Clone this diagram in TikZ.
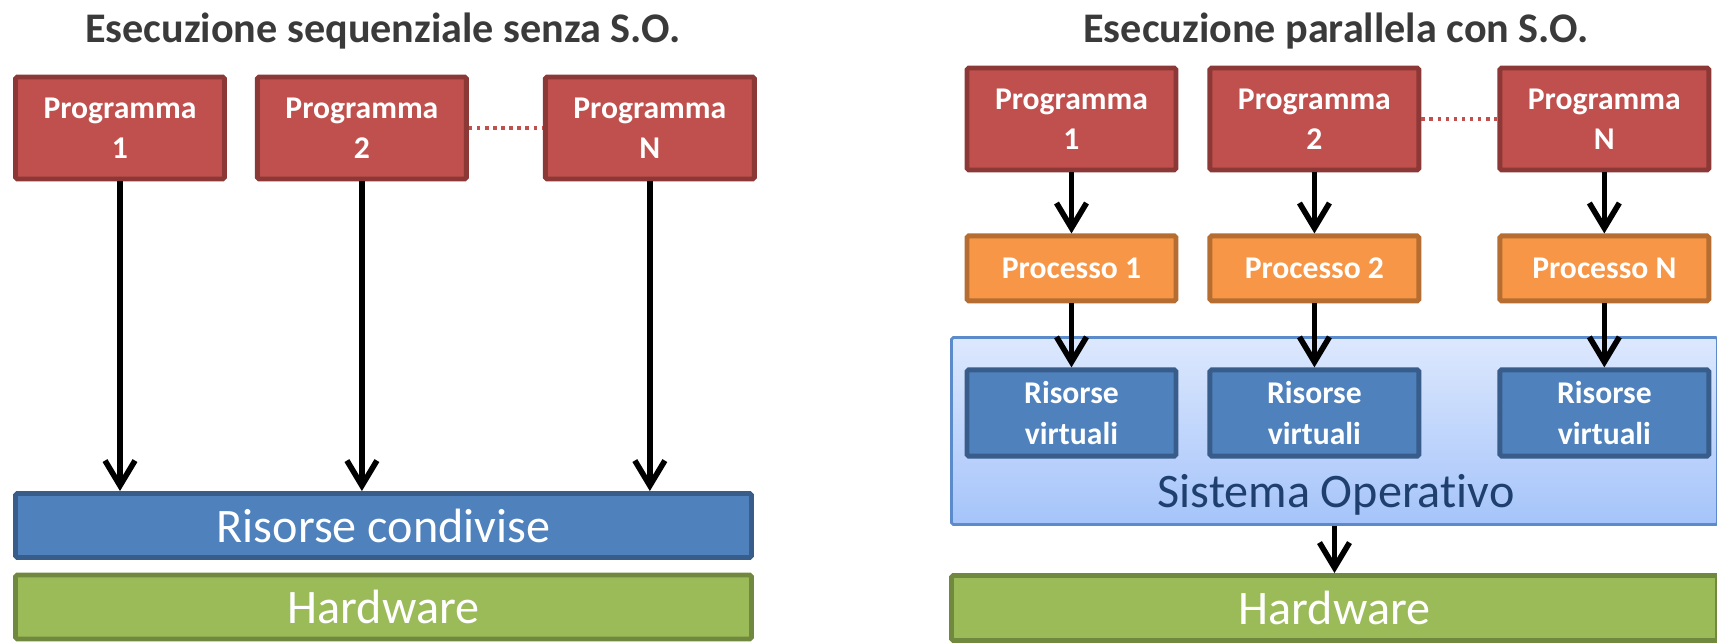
\documentclass[tikz,border=0pt]{standalone}
\usepackage{fontspec}
\setmainfont[Ligatures=NoCommon]{Carlito}
\usepackage{xcolor}
\usetikzlibrary{arrows.meta, positioning}

\definecolor{progfill}{HTML}{C0504D}
\definecolor{progline}{HTML}{8C3836}
\definecolor{procfill}{HTML}{F79646}
\definecolor{procline}{HTML}{B66D31}
\definecolor{resfill}{HTML}{4F81BD}
\definecolor{resline}{HTML}{385D8A}
\definecolor{hwfill}{HTML}{9BBB59}
\definecolor{hwline}{HTML}{71893F}
\definecolor{sotop}{HTML}{DDE8FD}
\definecolor{sobottom}{HTML}{A5C4FA}
\definecolor{soline}{HTML}{5B8BCB}
\definecolor{sotextcol}{HTML}{1F3F6E}
\definecolor{titlegray}{HTML}{3A3A3A}

\begin{document}
\begin{tikzpicture}[node distance=0.28cm, every node/.style={font=\bfseries\fontsize{9}{11.5}\selectfont}]
    \tikzstyle{prog} = [rectangle, rounded corners=0.5pt, draw=progline, fill=progfill, line width=1.4pt, minimum width=2.09cm, minimum height=1.02cm, align=center, text=white]
    \tikzstyle{proc} = [rectangle, rounded corners=0.5pt, draw=procline, fill=procfill, line width=1.4pt, minimum width=2.09cm, minimum height=0.65cm, align=center, text=white]
    \tikzstyle{virt} = [rectangle, rounded corners=0.5pt, draw=resline, fill=resfill, line width=1.4pt, minimum width=2.09cm, minimum height=0.75cm, align=center, text=white]
    \tikzstyle{band} = [rectangle, rounded corners=0.5pt, line width=1.4pt, minimum height=0.64cm, text=white, font=\fontsize{13.7}{16}\selectfont]
    \tikzstyle{title} = [text=titlegray, font=\bfseries\fontsize{12}{14}\selectfont]
    \tikzstyle{arr} = [line width=1.6pt, -{Straight Barb[length=2.5mm, width=3mm]}]
    \tikzstyle{dots} = [line width=1pt, progfill, dash pattern=on 1pt off 1.3pt]

    \useasboundingbox (0,0) rectangle (17.17,6.43);

    % senza sistema operativo
    \node[title] (titleseq) at (3.83,6.12) {Esecuzione sequenziale senza S.O.};
    \node[prog] (seqp1) at (1.20,5.15) {Programma\\1};
    \node[prog, right=0.28cm of seqp1] (seqp2) {Programma\\2};
    \node[prog, right=0.74cm of seqp2] (seqpn) {Programma\\N};
    \node[band, draw=resline, fill=resfill, minimum width=7.36cm] (shared) at (3.835,1.175) {Risorse condivise};
    \node[band, draw=hwline, fill=hwfill, minimum width=7.36cm] (seqhw) at (3.835,0.36) {Hardware};

    \draw[dots] (seqp2) -- (seqpn);
    \draw[arr] (seqp1.south) -- (seqp1.south |- shared.north);
    \draw[arr] (seqp2.south) -- (seqp2.south |- shared.north);
    \draw[arr] (seqpn.south) -- (seqpn.south |- shared.north);

    % con sistema operativo
    \node[title] (titlepar) at (13.36,6.12) {Esecuzione parallela con S.O.};
    \node[band, draw=soline, line width=0.8pt, top color=sotop, bottom color=sobottom, minimum width=7.66cm, minimum height=1.87cm] (os) at (13.345,2.12) {};
    \node[text=sotextcol, font=\fontsize{13.7}{16}\selectfont] (ostext) at (13.36,1.48) {Sistema Operativo};
    \node[band, draw=hwline, fill=hwfill, minimum width=7.66cm, minimum height=0.65cm] (parhw) at (13.345,0.35) {Hardware};

    \node[prog] (parp1) at (10.715,5.24) {Programma\\1};
    \node[prog, right=0.29cm of parp1] (parp2) {Programma\\2};
    \node[prog, right=0.76cm of parp2] (parpn) {Programma\\N};
    \node[proc, below=0.61cm of parp1] (proc1) {Processo 1};
    \node[proc, below=0.61cm of parp2] (proc2) {Processo 2};
    \node[proc, below=0.61cm of parpn] (procn) {Processo N};
    \node[virt, below=0.64cm of proc1] (virt1) {Risorse\\virtuali};
    \node[virt, below=0.64cm of proc2] (virt2) {Risorse\\virtuali};
    \node[virt, below=0.64cm of procn] (virtn) {Risorse\\virtuali};

    \draw[dots] (parp2) -- (parpn);
    \draw[arr] (parp1) -- (proc1);
    \draw[arr] (parp2) -- (proc2);
    \draw[arr] (parpn) -- (procn);
    \draw[arr] (proc1) -- (virt1);
    \draw[arr] (proc2) -- (virt2);
    \draw[arr] (procn) -- (virtn);
    \draw[arr] (os.south) -- (parhw.north);
\end{tikzpicture}
\end{document}
